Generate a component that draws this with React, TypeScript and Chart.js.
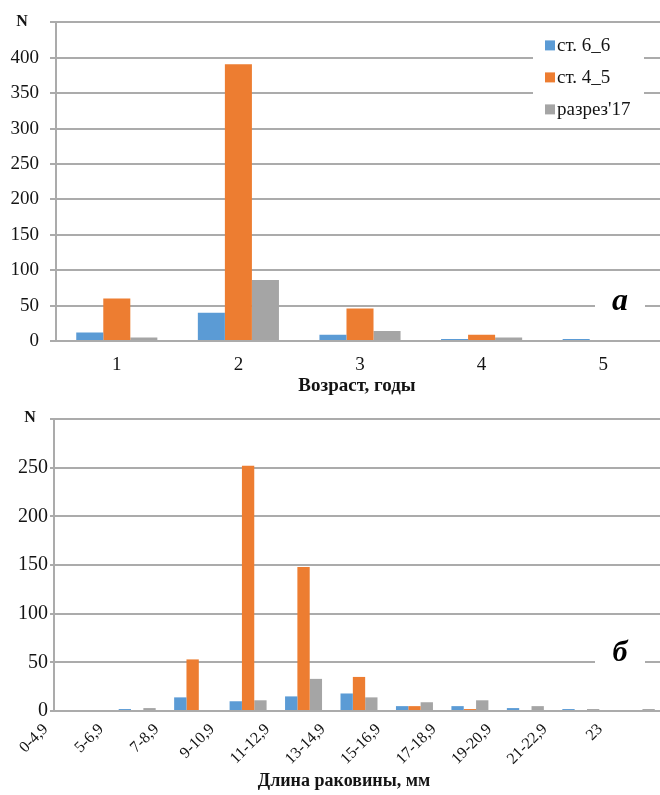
import React, { useEffect, useRef } from 'react';
import { Chart, registerables } from 'chart.js';

Chart.register(...registerables);

// ---------- data ----------
const seriesNames = ['ст. 6_6', 'ст. 4_5', "разрез'17"];
const seriesColors = ['#5B9BD5', '#ED7D31', '#A5A5A5'];

const ageCategories = ['1', '2', '3', '4', '5'];
const ageSt66 = [12, 40, 9, 3, 3];
const ageSt45 = [60, 391, 46, 9, 0];
const ageRazrez = [5, 86, 14, 5, 0];
const ageYMax = 450;
const ageYStep = 50;

const lengthCategories = ['0-4,9', '5-6,9', '7-8,9', '9-10,9', '11-12,9', '13-14,9', '15-16,9', '17-18,9', '19-20,9', '21-22,9', '23'];
const lenSt66 = [0, 2, 14, 10, 15, 18, 5, 5, 3, 2, 0];
const lenSt45 = [0, 0, 53, 252, 148, 35, 5, 2, 0, 0, 0];
const lenRazrez = [0, 3, 1, 11, 33, 14, 9, 11, 5, 2, 2];
const lenYMax = 300;
const lenYStep = 50;

const ageTitle = 'Возраст, годы';
const lengthTitle = 'Длина раковины, мм';
const yLabel = 'N';

// ---------- styles ----------
const SERIF = "'Liberation Serif', 'Times New Roman', serif";
const TEXT = '#141414';
const GRID = '#ababab';

const overlayPlugin = {
  id: 'overlay',
  afterDraw(chart: any, _args: any, o: any) {
    const { ctx, chartArea, scales } = chart;
    const y = scales.y;
    ctx.save();
    // N label at top of axis
    ctx.font = `bold ${o.nSize}px ${SERIF}`;
    ctx.fillStyle = TEXT;
    ctx.textAlign = 'center';
    ctx.textBaseline = 'middle';
    ctx.fillText(yLabel, o.nX, y.getPixelForValue(y.max) + o.nDy);

    // axis title
    ctx.font = `bold ${o.titleSize}px ${SERIF}`;
    ctx.fillText(o.title, o.titleX, o.titleY);

    // panel letter on white box
    const ly = y.getPixelForValue(50);
    ctx.fillStyle = '#ffffff';
    ctx.fillRect(chartArea.right - 69, ly - 4, 50, 8);
    ctx.font = `italic bold ${o.letterSize}px ${SERIF}`;
    ctx.fillStyle = '#000000';
    ctx.fillText(o.letter, chartArea.right - 44, ly + o.letterDy);

    // legend
    if (o.legend) {
      const lx = chartArea.right - 131;
      const top = chartArea.top + 12;
      ctx.fillStyle = '#ffffff';
      ctx.fillRect(lx, top, 111, 84);
      ctx.font = `19px ${SERIF}`;
      ctx.textAlign = 'left';
      chart.data.datasets.forEach((ds: any, i: number) => {
        const cy = top + 11 + i * 32;
        ctx.fillStyle = ds.backgroundColor;
        ctx.fillRect(lx + 12, cy - 5, 10, 10);
        ctx.fillStyle = TEXT;
        ctx.fillText(ds.label, lx + 24, cy + 1);
      });
    }
    ctx.restore();
  },
};

function makeDatasets(a: number[], b: number[], c: number[]) {
  return [a, b, c].map((d, i) => ({
    label: seriesNames[i],
    data: d,
    backgroundColor: seriesColors[i],
    borderWidth: 0,
    categoryPercentage: 0.667,
    barPercentage: 1,
  }));
}

function topConfig(): any {
  return {
    type: 'bar',
    data: { labels: ageCategories, datasets: makeDatasets(ageSt66, ageSt45, ageRazrez) },
    plugins: [overlayPlugin],
    options: {
      responsive: false,
      animation: false,
      layout: { padding: { top: 21, right: 2, left: 0, bottom: 0 } },
      plugins: {
        legend: { display: false },
        tooltip: { enabled: false },
        overlay: {
          nSize: 16, nX: 22, nDy: -1,
          title: ageTitle, titleSize: 19, titleX: 357, titleY: 386,
          letter: 'а', letterSize: 32, letterDy: -4,
          legend: true,
        },
      },
      scales: {
        x: {
          grid: { display: false, drawTicks: false },
          border: { display: true, color: GRID, width: 2 },
          ticks: { font: { family: SERIF, size: 19 }, color: TEXT, padding: 13 },
          afterFit: (s: any) => { s.height = 57; },
        },
        y: {
          min: 0,
          max: ageYMax,
          ticks: {
            stepSize: ageYStep,
            callback: (v: any) => (v === ageYMax ? '' : v),
            font: { family: SERIF, size: 19 },
            color: TEXT,
            padding: 11,
          },
          grid: { color: GRID, lineWidth: 2, tickLength: 6 },
          border: { color: GRID, width: 2 },
          afterFit: (s: any) => { s.width = 56; },
        },
      },
    },
  };
}

function bottomConfig(): any {
  return {
    type: 'bar',
    data: { labels: lengthCategories, datasets: makeDatasets(lenSt66, lenSt45, lenRazrez) },
    plugins: [overlayPlugin],
    options: {
      responsive: false,
      animation: false,
      layout: { padding: { top: 21, right: 2, left: 0, bottom: 0 } },
      plugins: {
        legend: { display: false },
        tooltip: { enabled: false },
        overlay: {
          nSize: 16, nX: 30, nDy: -1,
          title: lengthTitle, titleSize: 18, titleX: 344, titleY: 383,
          letter: 'б', letterSize: 30, letterDy: -9,
          legend: false,
        },
      },
      scales: {
        x: {
          grid: { display: false, drawTicks: false },
          border: { display: true, color: GRID, width: 2 },
          ticks: {
            font: { family: SERIF, size: 16 },
            color: TEXT,
            padding: 9,
            maxRotation: 45,
            minRotation: 45,
            autoSkip: false,
            labelOffset: -36,
          },
          afterFit: (s: any) => { s.height = 84; },
        },
        y: {
          min: 0,
          max: lenYMax,
          ticks: {
            stepSize: lenYStep,
            callback: (v: any) => (v === lenYMax ? '' : v),
            font: { family: SERIF, size: 20 },
            color: TEXT,
            padding: 2,
          },
          grid: { color: GRID, lineWidth: 2, tickLength: 4 },
          border: { color: GRID, width: 2 },
          afterFit: (s: any) => { s.width = 54; },
        },
      },
    },
  };
}

export default function App() {
  const topRef = useRef<HTMLCanvasElement>(null);
  const botRef = useRef<HTMLCanvasElement>(null);

  useEffect(() => {
    const c1 = new Chart(topRef.current as HTMLCanvasElement, topConfig());
    const c2 = new Chart(botRef.current as HTMLCanvasElement, bottomConfig());
    return () => {
      c1.destroy();
      c2.destroy();
    };
  }, []);

  return (
    <div style={{ position: 'absolute', left: 0, top: 0, width: 660, height: 795, overflow: 'hidden', background: '#ffffff' }}>
      <canvas ref={topRef} width={666} height={398} style={{ position: 'absolute', left: 0, top: 0, width: 666, height: 398 }} />
      <canvas ref={botRef} width={666} height={397} style={{ position: 'absolute', left: 0, top: 398, width: 666, height: 397 }} />
    </div>
  );
}
